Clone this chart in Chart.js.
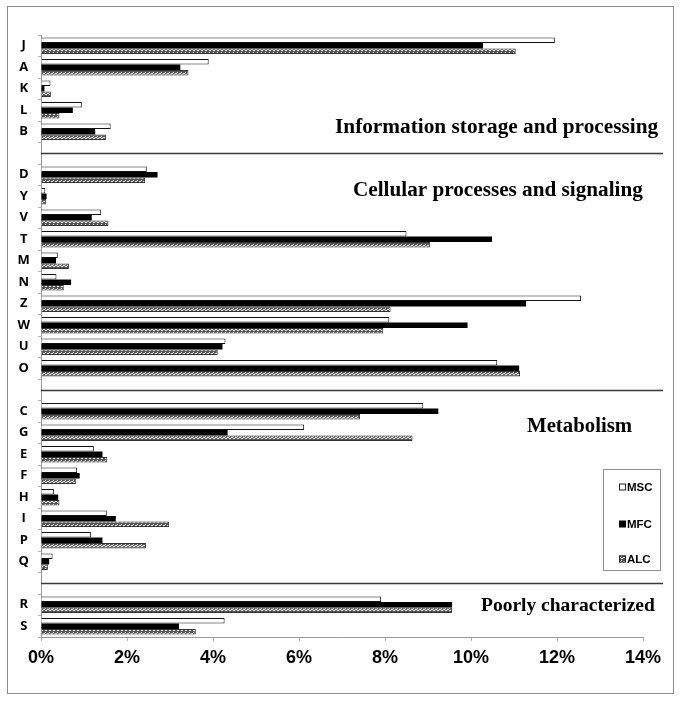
<!DOCTYPE html>
<html><head><meta charset="utf-8">
<script src="https://cdn.jsdelivr.net/npm/chart.js@4"></script>
<style>
html,body{margin:0;padding:0;background:#fff;}
#wrap{position:relative;width:683px;height:701px;}
#frame{position:absolute;left:7px;top:6px;width:667px;height:688px;border:1px solid #8c8c8c;box-sizing:border-box;pointer-events:none;}
canvas{position:absolute;left:0;top:0;}
</style></head><body>
<div id="wrap"><canvas id="c" width="683" height="701"></canvas><div id="frame"></div></div>
<script>
// Categories ('' = group separator row)
const categories = ['J','A','K','L','B','', 'D','Y','V','T','M','N','Z','W','U','O','', 'C','G','E','F','H','I','P','Q','', 'R','S'];
const seriesNames = ['MSC','MFC','ALC'];
const mscValues = [11.95,3.90,0.22,0.95,1.62,null, 2.46,0.10,1.40,8.50,0.39,0.36,12.56,8.10,4.29,10.61,null, 8.89,6.12,1.23,0.84,0.30,1.53,1.16,0.27,null, 7.91,4.27];
const mfcValues = [10.28,3.24,0.08,0.74,1.26,null, 2.71,0.13,1.18,10.49,0.35,0.70,11.28,9.92,4.22,11.12,null, 9.24,4.34,1.43,0.90,0.40,1.74,1.43,0.19,null, 9.56,3.21];
const alcValues = [11.04,3.43,0.23,0.43,1.51,null, 2.42,0.12,1.57,9.05,0.65,0.53,8.13,7.96,4.11,11.14,null, 7.42,8.64,1.54,0.82,0.43,2.98,2.44,0.16,null, 9.56,3.60];
const xTicks = [0,2,4,6,8,10,12,14];
const sectionTitles = ['Information storage and processing','Cellular processes and signaling','Metabolism','Poorly characterized'];

function makePattern(){
  const c=document.createElement('canvas'); c.width=4; c.height=4;
  const g=c.getContext('2d');
  g.fillStyle='#555555'; g.fillRect(0,0,4,4);
  g.fillStyle='#f0f0f0';
  g.fillRect(0,1,1,1); g.fillRect(1,2,1,1); g.fillRect(2,2,1,1); g.fillRect(3,1,1,1);
  g.fillRect(1,0,1,1);
  return g.createPattern(c,'repeat');
}
const alcPattern = makePattern();

const titleSpec = [
  {idx:4, dy:1.5, x:335, size:21.3},
  {idx:7, dy:0, x:353, size:21.2},
  {idx:18, dy:-0.5, x:527, size:20.8},
  {idx:26, dy:6, x:481, size:19.5}
];

const overlay = {
  id:'overlay',
  afterDraw(chart){
    const ctx=chart.ctx, ys=chart.scales.y, area=chart.chartArea;
    ctx.save();
    // separator lines
    ctx.strokeStyle='#3a3a3a'; ctx.lineWidth=1.3;
    categories.forEach((c,i)=>{
      if(c===''){
        const y=Math.round(ys.getPixelForValue(i))+0.5;
        ctx.beginPath(); ctx.moveTo(area.left,y); ctx.lineTo(area.right+20,y); ctx.stroke();
      }
    });
    // section titles
    ctx.fillStyle='#000';
    ctx.textBaseline='alphabetic'; ctx.textAlign='left';
    sectionTitles.forEach((t,k)=>{
      const s=titleSpec[k];
      ctx.font='bold '+s.size+'px "Liberation Serif", "Times New Roman", serif';
      ctx.fillText(t, s.x, ys.getPixelForValue(s.idx)+s.dy);
    });
    // legend
    ctx.strokeStyle='#8c8c8c'; ctx.lineWidth=1;
    ctx.strokeRect(603.5,469.5,57,101);
    const ly=[487,524,559];
    ctx.font='bold 11.5px "Liberation Sans Narrow", "Arial Narrow", sans-serif';
    ctx.textBaseline='middle';
    chart.data.datasets.forEach((ds,i)=>{
      const y=ly[i];
      ctx.fillStyle=ds.backgroundColor; ctx.fillRect(619,y-3.5,7,7);
      if(i!==1){ctx.strokeStyle='#222'; ctx.lineWidth=1; ctx.strokeRect(619.5,y-3,6,6);}
      ctx.fillStyle='#000'; ctx.fillText(ds.label,627,y+0.5);
    });
    ctx.restore();
  }
};

new Chart(document.getElementById('c'),{
  type:'bar',
  data:{
    labels:categories,
    datasets:[
      {label:seriesNames[0],data:mscValues,backgroundColor:'#ffffff',borderColor:'#111',borderWidth:1},
      {label:seriesNames[1],data:mfcValues,backgroundColor:'#000000',borderColor:'#000',borderWidth:0},
      {label:seriesNames[2],data:alcValues,backgroundColor:alcPattern,borderColor:'#333',borderWidth:1}
    ]
  },
  options:{
    indexAxis:'y',
    responsive:false,
    animation:false,
    layout:{padding:{top:35,right:40,bottom:0,left:0}},
    categoryPercentage:0.76,
    barPercentage:1.0,
    plugins:{legend:{display:false},tooltip:{enabled:false}},
    scales:{
      x:{
        type:'linear',min:0,max:14,
        afterFit(s){s.height=64;},
        afterBuildTicks(s){s.ticks=xTicks.map(v=>({value:v}));},
        ticks:{callback:v=>v+'%',color:'#000',padding:6,font:{family:'"Liberation Sans", Arial, sans-serif',size:18,weight:'bold'}},
        grid:{drawOnChartArea:false,tickLength:4,color:'#b0b0b0'},
        border:{color:'#9a9a9a',width:1}
      },
      y:{
        afterFit(s){s.width=41;},
        ticks:{autoSkip:false,crossAlign:'center',padding:8,color:'#000',font:{family:'"Open Sans", sans-serif',size:13,weight:'bold'}},
        grid:{drawOnChartArea:false,tickLength:3,color:'#b0b0b0'},
        border:{color:'#9a9a9a',width:1}
      }
    }
  },
  plugins:[overlay]
});
</script>
</body></html>
